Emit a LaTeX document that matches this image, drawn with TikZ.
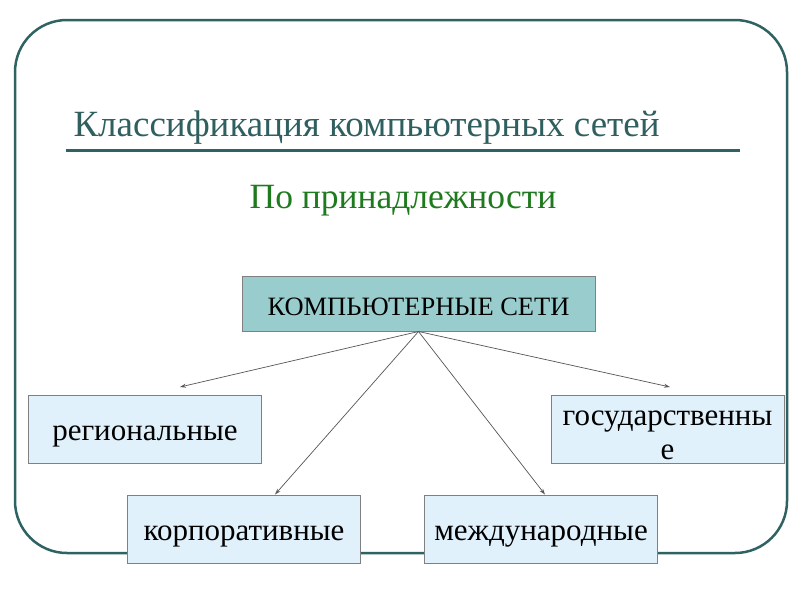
\documentclass[tikz,border=0pt]{standalone}
\usepackage{fontspec}
\setmainfont{Liberation Serif}
\usetikzlibrary{arrows.meta}
\definecolor{frameteal}{HTML}{2F6363}
\definecolor{titleteal}{HTML}{2F5F5F}
\definecolor{subgreen}{HTML}{1F7A1F}
\definecolor{mainfill}{HTML}{99CCCC}
\definecolor{leaffill}{HTML}{E1F1FC}
\definecolor{boxline}{HTML}{808080}
\definecolor{arrowgray}{HTML}{555555}
\tikzset{
  mainbox/.style={draw=boxline, line width=1pt, fill=mainfill, minimum width=353pt, minimum height=55pt, inner sep=0pt, text height=23pt, text depth=0pt, font=\fontsize{26.5}{30}\selectfont},
  leafbox/.style={draw=boxline, line width=1pt, fill=leaffill, minimum width=233pt, minimum height=68pt, inner sep=0pt, align=center, font=\fontsize{31}{34}\selectfont},
  oneline/.style={text height=22pt, text depth=0pt},
  conn/.style={draw=arrowgray, line width=0.7pt, -{Stealth[length=6pt,width=4pt,open]}},
}
\begin{document}
\begin{tikzpicture}[x=1pt,y=-1pt]
\useasboundingbox (0,0) rectangle (800,600);
\fill[white] (0,0) rectangle (800,600);
\draw[frameteal, line width=2.5pt, rounded corners=52pt] (15,20) rectangle (787,553);
\node[anchor=base west, text=titleteal, font=\fontsize{37}{42}\selectfont] (title) at (70,136) {Классификация компьютерных сетей};
\draw[frameteal, line width=3pt] (66,150) -- (740,150);
\node[text=subgreen, font=\fontsize{35.5}{40}\selectfont] (sub) at (403,201) {По принадлежности};
\node[mainbox] (main) at (418.5,303.5) {КОМПЬЮТЕРНЫЕ СЕТИ};
\node[leafbox, oneline] (reg) at (145,429) {региональные};
\node[leafbox, text height=60pt, text depth=0pt] (gos) at (667.5,429) {государственны\\е};
\node[leafbox, oneline] (korp) at (244,529) {корпоративные};
\node[leafbox, oneline] (mezh) at (541,529) {международные};
\coordinate (src) at (main.south);
\coordinate (regtip) at (180,387);
\coordinate (gostip) at (670,387);
\draw[conn] (src) -- (regtip);
\draw[conn] (src) -- (korp.north -| 275,0);
\draw[conn] (src) -- (mezh.north -| 545,0);
\draw[conn] (src) -- (gostip);
\end{tikzpicture}
\end{document}
